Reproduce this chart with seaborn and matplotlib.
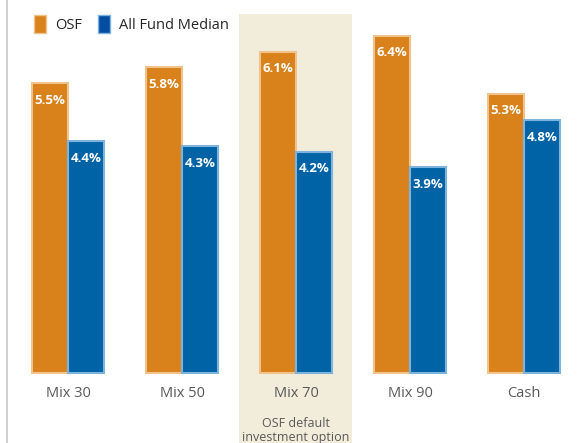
import pandas as pd
import numpy as np
import matplotlib
matplotlib.use("Agg")
import matplotlib.pyplot as plt
import seaborn as sns
from matplotlib.patches import Patch
from matplotlib.lines import Line2D

categories = ["Mix 30", "Mix 50", "Mix 70", "Mix 90", "Cash"]
osf = [5.5, 5.8, 6.1, 6.4, 5.3]
median = [4.4, 4.3, 4.2, 3.9, 4.8]
series = ["OSF", "All Fund Median"]
note = "OSF default\ninvestment option"

orange = "#D9821C"
blue = "#0063A6"

df = pd.DataFrame({
    "cat": categories * 2,
    "val": osf + median,
    "series": [series[0]] * len(categories) + [series[1]] * len(categories),
})

sns.set_style("white")
plt.rcParams["font.family"] = ["Open Sans", "DejaVu Sans"]

fig = plt.figure(figsize=(5.88, 4.43), dpi=100)
ax = fig.add_axes([0, 0, 1, 1])

# highlight for the default option
ax.axvspan(1.5, 2.49, ymin=0, ymax=0.968, color="#F2ECDA", zorder=0, lw=0)

sns.barplot(data=df, x="cat", y="val", hue="series", order=categories,
            hue_order=series, palette=[orange, blue], width=0.64,
            saturation=1, legend=False, ax=ax, zorder=2)

edge = {0: "#F0C28C", 1: "#7EB3DE"}
for i, cont in enumerate(ax.containers):
    for bar in cont:
        bar.set_edgecolor(edge[i])
        bar.set_linewidth(1.5)
    ax.bar_label(cont, labels=[f"{v:.1f}%" for v in cont.datavalues],
                 padding=-17, color="white", fontweight="bold", fontsize=9.5)

ax.set_xlim(-68 / 114, (588 - 68) / 114)
ax.set_ylim(-70 / 52.7, 373 / 52.7)
ax.axis("off")

for i, c in enumerate(categories):
    ax.text(i, -0.38, c, ha="center", va="center", fontsize=10.5, color="#595959")
ax.text(2, -1.1, note, ha="center", va="center", fontsize=9,
        color="#595959", linespacing=1.1)

fig.add_artist(Line2D([7 / 588, 7 / 588], [0, 1], color="#C8C8C8", lw=1.2))

handles = [Patch(facecolor=orange, edgecolor="#F0C28C"),
           Patch(facecolor="#034EA2", edgecolor="#7EB3DE")]
fig.legend(handles, series, loc="upper left", bbox_to_anchor=(0.035, 0.995),
           ncol=2, frameon=False, fontsize=10.5, handlelength=0.85,
           handleheight=1.5, handletextpad=0.6, columnspacing=1.1,
           labelcolor="#262626")

fig.savefig("out.png", dpi=100)
